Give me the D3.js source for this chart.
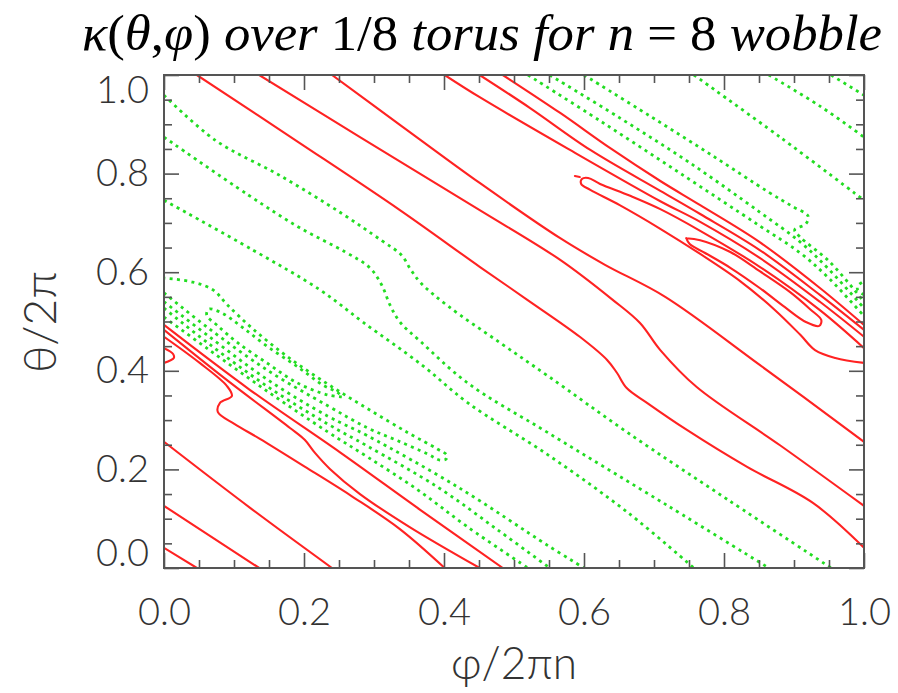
<!DOCTYPE html>
<html><head><meta charset="utf-8">
<script src="https://cdn.jsdelivr.net/npm/d3@7"></script>
<style>
body{margin:0;background:#fff}
</style>
</head><body><svg id="c" width="898" height="693"></svg>
<script>
// ---- axis ticks ----
const xMajor = [0.0, 0.2, 0.4, 0.6, 0.8, 1.0];
const yMajor = [0.0, 0.2, 0.4, 0.6, 0.8, 1.0];
const minorTicks = [0.05,0.1,0.15,0.25,0.3,0.35,0.45,0.5,0.55,0.65,0.7,0.75,0.85,0.9,0.95];

// ---- positive (red, solid) contours : [phi/2πn, theta/2π] ----
const R1 = [[0.047,1.000],[0.194,0.862],[0.337,0.726],[0.451,0.611],[0.519,0.544],[0.594,0.469],[0.633,0.422],[0.647,0.396],[0.661,0.365],[0.690,0.335],[0.747,0.280],[0.833,0.205],[0.927,0.132],[1.000,0.041]];
const L1 = [[0,0.041],[0.047,0]];
const R2 = [[0.136,1],[0.280,0.874],[0.451,0.726],[0.566,0.625],[0.641,0.544],[0.680,0.497],[0.709,0.442],[0.761,0.367],[0.880,0.249],[1,0.126]];
const L2 = [[0,0.126],[0.136,0]];
const R3 = [[0.240,1],[0.337,0.899],[0.451,0.781],[0.566,0.669],[0.630,0.615],[0.716,0.550],[0.851,0.412],[1,0.256]];
const L3 = [[0,0.256],[0.123,0.122],[0.240,0]];
const Bc = [[0.484,1],[0.566,0.923],[0.637,0.852],[0.709,0.785],[0.766,0.736],[0.851,0.661],[0.937,0.568],[1,0.493]];
const Bb = [[0.451,1],[0.523,0.933],[0.609,0.848],[0.709,0.765],[0.766,0.718],[0.851,0.645],[0.937,0.554],[1,0.483]];
const Ba = [[0.401,1],[0.451,0.955],[0.580,0.848],[0.709,0.744],[0.766,0.702],[0.851,0.629],[0.937,0.540],[1,0.469]];
const redOuter = [[1,0.446],[0.937,0.523],[0.851,0.611],[0.766,0.684],[0.709,0.728],[0.666,0.755],[0.623,0.779],[0.606,0.791],[0.597,0.789],[0.596,0.779],[0.609,0.767],[0.651,0.736],[0.709,0.688],[0.766,0.637],[0.823,0.582],[0.873,0.523],[0.909,0.473],[0.930,0.442],[0.959,0.426],[1,0.416]];
const redInner = [[0.746,0.669],[0.766,0.665],[0.809,0.641],[0.851,0.602],[0.894,0.560],[0.923,0.525],[0.939,0.503],[0.936,0.491],[0.917,0.499],[0.887,0.529],[0.851,0.568],[0.809,0.609],[0.773,0.639],[0.751,0.657],[0.746,0.669]];
const redSpeck = [[0.587,0.795],[0.594,0.793]];
const redBump = [[0,0.446],[0.013,0.434],[0.014,0.426],[0,0.416]];
const Lf = [[0,0.493],[0.123,0.361],[0.251,0.235],[0.366,0.118],[0.484,0]];
const Le = [[0,0.483],[0.090,0.381],[0.180,0.284],[0.201,0.260],[0.216,0.233],[0.237,0.201],[0.280,0.150],[0.351,0.083],[0.451,0]];
const Lc = [[0,0.469],[0.051,0.416],[0.090,0.369],[0.097,0.349],[0.080,0.335],[0.077,0.316],[0.101,0.292],[0.137,0.262],[0.204,0.203],[0.270,0.144],[0.337,0.079],[0.401,0]];

// ---- negative (green, dotted) contours ----
const G1 = [[0,0.959],[0.073,0.868],[0.167,0.795],[0.253,0.720],[0.310,0.665],[0.339,0.635],[0.353,0.604],[0.367,0.578],[0.406,0.531],[0.481,0.456],[0.549,0.389],[0.663,0.274],[0.806,0.138],[0.953,0]];
const G1top = [[0.953,1],[1,0.959]];
const G2 = [[0,0.874],[0.120,0.757],[0.194,0.690],[0.259,0.641],[0.294,0.609],[0.311,0.574],[0.323,0.533],[0.337,0.499],[0.366,0.460],[0.434,0.375],[0.549,0.274],[0.720,0.126],[0.864,0]];
const G2top = [[0.864,1],[0.937,0.937],[1,0.874]];
const G3 = [[0,0.746],[0.127,0.645],[0.223,0.564],[0.284,0.499],[0.370,0.410],[0.434,0.335],[0.549,0.229],[0.663,0.112],[0.757,0]];
const G3top = [[0.757,1],[0.880,0.874],[1,0.746]];
const GCtop = [[0.520,1],[0.623,0.907],[0.737,0.801],[0.851,0.694],[0.909,0.639],[0.951,0.586],[1,0.511]];
const GC = [[0,0.509],[0.063,0.444],[0.149,0.357],[0.234,0.276],[0.291,0.225],[0.363,0.158],[0.434,0.083],[0.520,0]];
const GBtop = [[0.551,1],[0.651,0.913],[0.751,0.822],[0.851,0.722],[0.909,0.661],[0.951,0.604],[1,0.527]];
const GB = [[0,0.527],[0.063,0.456],[0.149,0.367],[0.234,0.292],[0.291,0.247],[0.391,0.164],[0.477,0.077],[0.551,0]];
const GAtop = [[0.600,1],[0.694,0.917],[0.784,0.836],[0.863,0.763],[0.897,0.734],[0.920,0.714],[0.917,0.698],[0.901,0.686],[0.909,0.671],[0.951,0.621],[1,0.540]];
const GA = [[0,0.540],[0.063,0.471],[0.149,0.381],[0.234,0.308],[0.291,0.268],[0.420,0.164],[0.549,0.045],[0.600,0]];
const greenOuter = [[0,0.558],[0.063,0.487],[0.149,0.400],[0.234,0.329],[0.291,0.284],[0.334,0.258],[0.377,0.231],[0.394,0.219],[0.403,0.221],[0.404,0.229],[0.391,0.241],[0.349,0.274],[0.291,0.323],[0.234,0.373],[0.177,0.428],[0.127,0.485],[0.091,0.533],[0.070,0.564],[0.041,0.580],[0,0.588]];
const greenInner = [[0.254,0.347],[0.234,0.351],[0.191,0.375],[0.149,0.414],[0.106,0.456],[0.077,0.491],[0.061,0.513],[0.064,0.525],[0.083,0.517],[0.113,0.487],[0.149,0.448],[0.191,0.408],[0.227,0.371],[0.249,0.355],[0.254,0.347]];
const greenBump = [[1,0.554],[0.991,0.564],[0.991,0.572],[1,0.582]];

const redLines = [R1,L1,R2,L2,R3,L3,Bc,Bb,Ba,redOuter,redInner,redSpeck,redBump,Lf,Le,Lc];
const greenLines = [G1,G1top,G2,G2top,G3,G3top,GCtop,GC,GBtop,GB,GAtop,GA,greenOuter,greenInner,greenBump];

// ---- drawing ----
const svg = d3.select('#c');
svg.append('rect').attr('width',898).attr('height',693).attr('fill','#fff');
const L = 164, R = 864, T = 75, B = 568;
const x = d3.scaleLinear().domain([0,1]).range([L,R]);
const y = d3.scaleLinear().domain([0,1]).range([B,T]);

const line = d3.line().x(d=>x(d[0])).y(d=>y(d[1])).curve(d3.curveCatmullRom.alpha(0.5));

svg.append('defs').append('clipPath').attr('id','clip')
  .append('rect').attr('x',L).attr('y',T).attr('width',R-L).attr('height',B-T);
const plot = svg.append('g').attr('clip-path','url(#clip)');

plot.selectAll('path.neg').data(greenLines).join('path').attr('class','neg')
  .attr('d',line).attr('fill','none').attr('stroke','#22dd22')
  .attr('stroke-width',2.8).attr('stroke-dasharray','3,4.3');
plot.selectAll('path.pos').data(redLines).join('path').attr('class','pos')
  .attr('d',line).attr('fill','none').attr('stroke','#ff2222')
  .attr('stroke-width',2.1).attr('stroke-linejoin','round').attr('stroke-linecap','round');

// axes
const axColor = '#555';
const sansFam = 'Lato, Roboto, sans-serif';
function styleAxis(g){
  g.select('.domain').remove();
  g.attr('font-family', sansFam).attr('font-size', 38);
  g.selectAll('.tick line').attr('stroke',axColor).attr('stroke-width',1.6);
  g.selectAll('.tick text').attr('fill','#333').attr('font-weight',300);
}
const fmt = d3.format('.1f');
svg.append('g').attr('transform',`translate(0,${B})`)
  .call(d3.axisBottom(x).tickValues(xMajor).tickSize(-15).tickPadding(30).tickFormat(fmt)).call(styleAxis);
svg.append('g').attr('transform',`translate(0,${B})`)
  .call(d3.axisBottom(x).tickValues(minorTicks).tickSize(-8).tickFormat('')).call(styleAxis);
svg.append('g').attr('transform',`translate(0,${T})`)
  .call(d3.axisTop(x).tickValues(xMajor).tickSize(-15).tickFormat('')).call(styleAxis);
svg.append('g').attr('transform',`translate(0,${T})`)
  .call(d3.axisTop(x).tickValues(minorTicks).tickSize(-8).tickFormat('')).call(styleAxis);
const yAx = svg.append('g').attr('transform',`translate(${L},0)`)
  .call(d3.axisLeft(y).tickValues(yMajor).tickSize(-15).tickPadding(15).tickFormat(fmt)).call(styleAxis);
svg.append('g').attr('transform',`translate(${L},0)`)
  .call(d3.axisLeft(y).tickValues(minorTicks).tickSize(-8).tickFormat('')).call(styleAxis);
svg.append('g').attr('transform',`translate(${R},0)`)
  .call(d3.axisRight(y).tickValues(yMajor).tickSize(-15).tickFormat('')).call(styleAxis);
svg.append('g').attr('transform',`translate(${R},0)`)
  .call(d3.axisRight(y).tickValues(minorTicks).tickSize(-8).tickFormat('')).call(styleAxis);
yAx.selectAll('.tick text').attr('transform',d=> d===1 ? 'translate(0,15)' : (d===0 ? 'translate(0,-15)' : null));

svg.append('rect').attr('x',L).attr('y',T).attr('width',R-L).attr('height',B-T)
  .attr('fill','none').attr('stroke',axColor).attr('stroke-width',2);

// axis titles
svg.append('text').attr('transform','translate(56,322) rotate(-90)')
  .attr('text-anchor','middle').attr('font-family',sansFam).attr('font-weight',300).attr('font-size',46)
  .attr('fill','#333').attr('textLength',102).attr('lengthAdjust','spacingAndGlyphs')
  .text('θ/2π');
svg.append('text').attr('x',514).attr('y',679)
  .attr('text-anchor','middle').attr('font-family',sansFam).attr('font-weight',300).attr('font-size',46)
  .attr('fill','#333').attr('textLength',126).attr('lengthAdjust','spacingAndGlyphs')
  .text('φ/2πn');

// title
const serifFam = "'Liberation Serif', LiberationSerif, Tinos, 'Times New Roman', Times, 'DejaVu Serif', serif";
const title = svg.append('text').attr('x',482).attr('y',50).attr('text-anchor','middle')
  .attr('font-family',serifFam).attr('font-size',50).attr('fill','#000')
  .attr('textLength',800).attr('lengthAdjust','spacingAndGlyphs');
const parts = [['κ',1],['(',0],['θ',1],[',',0],['φ',1],[')',0],[' over ',1],['1/8',0],[' torus  for ',1],['n',1],[' = ',0],['8',0],[' wobble',1]];
parts.forEach(p=>title.append('tspan').attr('font-style',p[1]?'italic':'normal').text(p[0]));
</script>
</body></html>
